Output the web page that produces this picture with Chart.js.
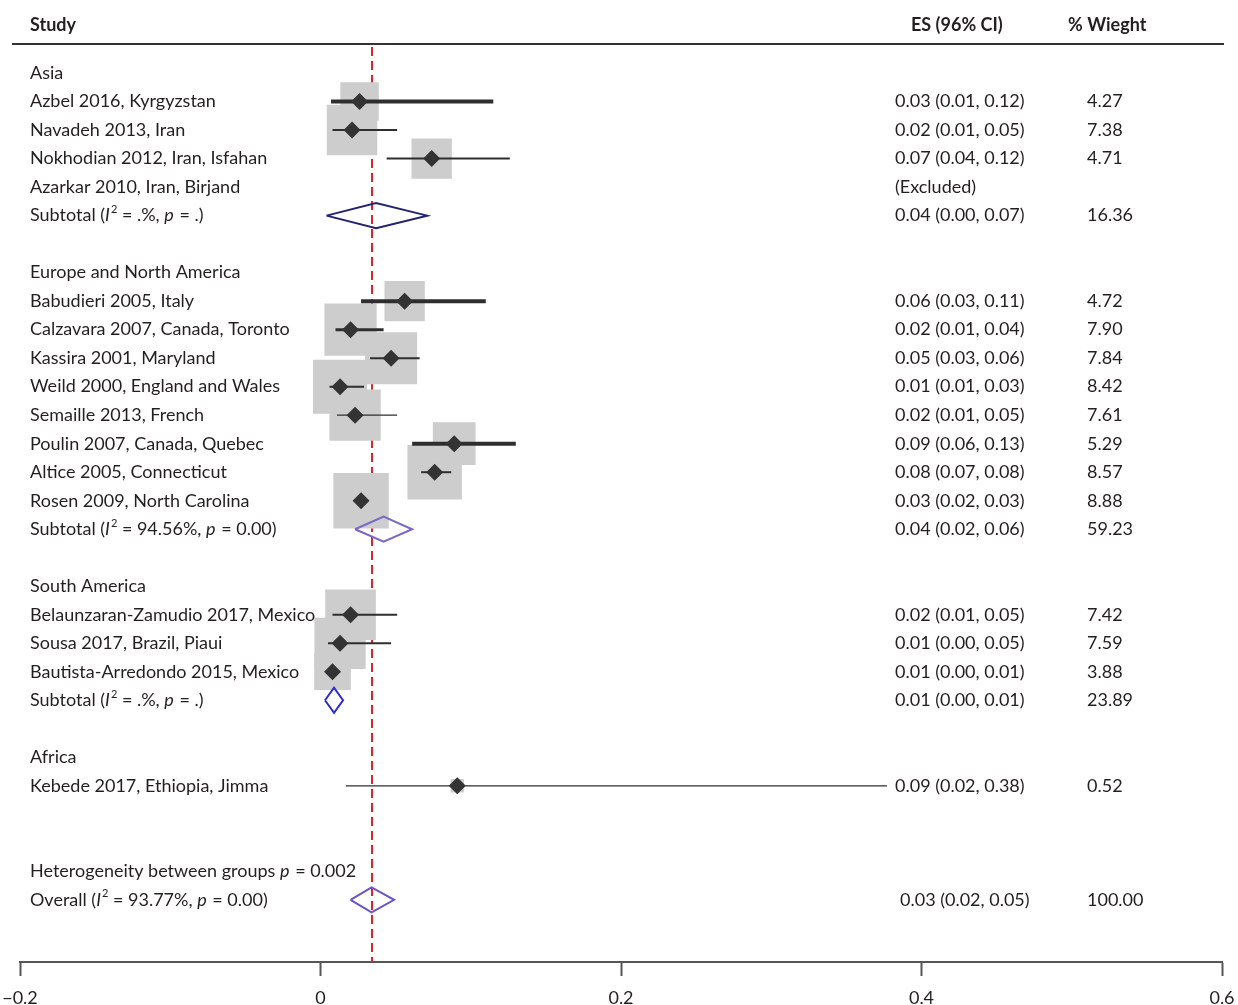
<!DOCTYPE html>
<html>
<head>
<meta charset="utf-8">
<script src="https://cdn.jsdelivr.net/npm/chart.js@4"></script>
<style>
html, body { margin: 0; padding: 0; background: #fff; }
#wrap { width: 1238px; height: 1005px; }
</style>
</head>
<body>
<div id="wrap"><canvas id="forest_chart"></canvas></div>
<script>
const groupNames = ['Asia', 'Europe and North America', 'South America', 'Africa'];

const studyNames = [
    'Azbel 2016, Kyrgyzstan',
    'Navadeh 2013, Iran',
    'Nokhodian 2012, Iran, Isfahan',
    'Azarkar 2010, Iran, Birjand',
    'Babudieri 2005, Italy',
    'Calzavara 2007, Canada, Toronto',
    'Kassira 2001, Maryland',
    'Weild 2000, England and Wales',
    'Semaille 2013, French',
    'Poulin 2007, Canada, Quebec',
    'Altice 2005, Connecticut',
    'Rosen 2009, North Carolina',
    'Belaunzaran-Zamudio 2017, Mexico',
    'Sousa 2017, Brazil, Piaui',
    'Bautista-Arredondo 2015, Mexico',
    'Kebede 2017, Ethiopia, Jimma',
];
const studyGroup = [0, 0, 0, 0, 1, 1, 1, 1, 1, 1, 1, 1, 2, 2, 2, 3];
const studyEs = [0.026, 0.021, 0.074, null, 0.056, 0.020, 0.047, 0.013, 0.023, 0.089, 0.076, 0.027, 0.020, 0.013, 0.008, 0.091];
const studyLow = [0.007, 0.008, 0.044, null, 0.027, 0.010, 0.033, 0.006, 0.011, 0.061, 0.067, 0.024, 0.008, 0.005, 0.004, 0.017];
const studyHigh = [0.115, 0.051, 0.126, null, 0.110, 0.042, 0.066, 0.029, 0.051, 0.130, 0.087, 0.031, 0.051, 0.047, 0.011, 0.377];
const studyEsText = [
    '0.03 (0.01, 0.12)', '0.02 (0.01, 0.05)', '0.07 (0.04, 0.12)', '(Excluded)',
    '0.06 (0.03, 0.11)', '0.02 (0.01, 0.04)', '0.05 (0.03, 0.06)', '0.01 (0.01, 0.03)',
    '0.02 (0.01, 0.05)', '0.09 (0.06, 0.13)', '0.08 (0.07, 0.08)', '0.03 (0.02, 0.03)',
    '0.02 (0.01, 0.05)', '0.01 (0.00, 0.05)', '0.01 (0.00, 0.01)', '0.09 (0.02, 0.38)',
];
const studyWeight = [4.27, 7.38, 4.71, null, 4.72, 7.90, 7.84, 8.42, 7.61, 5.29, 8.57, 8.88, 7.42, 7.59, 3.88, 0.52];

const subEs = [0.037, 0.042, 0.009, null];
const subLow = [0.004, 0.023, 0.003, null];
const subHigh = [0.071, 0.061, 0.015, null];
const subEsText = ['0.04 (0.00, 0.07)', '0.04 (0.02, 0.06)', '0.01 (0.00, 0.01)', null];
const subWeight = [16.36, 59.23, 23.89, null];
const subI2 = ['.%', '94.56%', '.%', null];
const subP = ['.', '0.00', '.', null];

const overallEs = 0.034;
const overallLow = 0.020;
const overallHigh = 0.049;
const overallEsText = '0.03 (0.02, 0.05)';
const overallWeight = 100.00;
const overallI2 = '93.77%';
const overallP = '0.00';
const heterogeneityP = '0.002';

const xTicks = [-0.2, 0, 0.2, 0.4, 0.6];

// styles
const ciWidth = [4, 2, 2, 2, 4, 3, 2, 2, 1.2, 4, 2, 2, 2, 2, 2, 1.2];
const diamondColors = ['#23246e', '#7a68c4', '#2a2ccc', null];
const overallColor = '#6a55c2';
const textColor = '#231f20';
const fontName = 'Lato';
const fontSize = 18;

// row layout: header, studies, subtotal slot, blank
let rowOfStudy = [];
let rowOfHeader = [];
let rowOfSub = [];
let row = 0;
groupNames.forEach((g, gi) => {
    rowOfHeader.push(row);
    row++;
    studyNames.forEach((s, si) => {
        if (studyGroup[si] === gi) {
            rowOfStudy[si] = row;
            row++;
        }
    });
    rowOfSub.push(row);
    row += 2;
});
const rowHetero = row;
const rowOverall = row + 1;

const halfH = 0.44;
function diamond(es, lo, hi, r) {
    return [
        {x: lo, y: r}, {x: es, y: r - halfH}, {x: hi, y: r}, {x: es, y: r + halfH}, {x: lo, y: r},
    ];
}

let boxData = [];
let pointData = [];
let datasets = [];
studyNames.forEach((s, i) => {
    if (studyEs[i] === null) return;
    boxData.push({x: studyEs[i], y: rowOfStudy[i], w: studyWeight[i]});
    pointData.push({x: studyEs[i], y: rowOfStudy[i]});
    datasets.push({
        data: [{x: studyLow[i], y: rowOfStudy[i]}, {x: studyHigh[i], y: rowOfStudy[i]}],
        showLine: true,
        borderColor: '#2e2e2e',
        borderWidth: ciWidth[i],
        pointRadius: 0,
        order: 3,
    });
});
datasets.push({
    data: boxData,
    pointStyle: 'rect',
    pointRadius: (c) => 13.15 * Math.sqrt(c.raw.w),
    backgroundColor: '#cdcdcd',
    borderWidth: 0,
    order: 4,
});
datasets.push({
    data: pointData,
    pointStyle: 'rectRot',
    pointRadius: 8.5,
    backgroundColor: '#333333',
    borderWidth: 0,
    order: 2,
});
groupNames.forEach((g, gi) => {
    if (subEs[gi] === null) return;
    datasets.push({
        data: diamond(subEs[gi], subLow[gi], subHigh[gi], rowOfSub[gi]),
        showLine: true,
        borderColor: diamondColors[gi],
        borderWidth: 2,
        pointRadius: 0,
        order: 1,
    });
});
datasets.push({
    data: diamond(overallEs, overallLow, overallHigh, rowOverall),
    showLine: true,
    borderColor: overallColor,
    borderWidth: 2,
    pointRadius: 0,
    order: 1,
});

function drawRich(ctx, x, y, parts) {
    parts.forEach((p) => {
        ctx.font = (p.i ? 'italic ' : '') + (p.sup ? '11px ' : fontSize + 'px ') + fontName;
        ctx.fillText(p.t, x, y + (p.sup ? -6 : 0));
        x += ctx.measureText(p.t).width + (p.i ? 1 : 0);
    });
}

const backgroundLines = {
    id: 'backgroundLines',
    beforeDatasetsDraw(chart) {
        const {ctx, chartArea, scales} = chart;
        ctx.save();
        ctx.strokeStyle = '#333';
        ctx.lineWidth = 2;
        ctx.beginPath();
        ctx.moveTo(12, chartArea.top);
        ctx.lineTo(1224, chartArea.top);
        ctx.stroke();
        const xr = Math.round(scales.x.getPixelForValue(overallEs));
        ctx.strokeStyle = '#d7262e';
        ctx.setLineDash([9, 5]);
        ctx.beginPath();
        ctx.moveTo(xr, chartArea.top + 3);
        ctx.lineTo(xr, chartArea.bottom);
        ctx.stroke();
        ctx.restore();
    },
};

const tableText = {
    id: 'tableText',
    afterDraw(chart) {
        const {ctx, chartArea, scales} = chart;
        const yOf = (r) => scales.y.getPixelForValue(r);
        const labelX = 30;
        const esX = 895;
        const wX = 1087;
        const base = fontSize + 'px ' + fontName;
        ctx.save();
        ctx.fillStyle = textColor;
        ctx.textBaseline = 'middle';
        ctx.textAlign = 'left';
        ctx.font = 'bold ' + base;
        ctx.fillText('Study', labelX, chartArea.top - 19);
        ctx.fillText('ES (96% CI)', 911, chartArea.top - 19);
        ctx.fillText('% Wieght', 1068, chartArea.top - 19);

        groupNames.forEach((g, gi) => {
            ctx.font = base;
            ctx.fillText(g, labelX, yOf(rowOfHeader[gi]));
            if (subEs[gi] !== null) {
                const y = yOf(rowOfSub[gi]);
                drawRich(ctx, labelX, y, [
                    {t: 'Subtotal ('}, {t: 'I', i: true}, {t: '2', sup: true},
                    {t: ' = ' + subI2[gi] + ', '}, {t: 'p', i: true}, {t: ' = ' + subP[gi] + ')'},
                ]);
                ctx.font = base;
                ctx.fillText(subEsText[gi], esX, y);
                ctx.fillText(subWeight[gi].toFixed(2), wX, y);
            }
        });
        ctx.font = base;
        studyNames.forEach((s, i) => {
            const y = yOf(rowOfStudy[i]);
            ctx.fillText(s, labelX, y);
            ctx.fillText(studyEsText[i], esX, y);
            if (studyWeight[i] !== null) ctx.fillText(studyWeight[i].toFixed(2), wX, y);
        });
        drawRich(ctx, labelX, yOf(rowHetero), [
            {t: 'Heterogeneity between groups '}, {t: 'p', i: true}, {t: ' = ' + heterogeneityP},
        ]);
        const yo = yOf(rowOverall);
        drawRich(ctx, labelX, yo, [
            {t: 'Overall ('}, {t: 'I', i: true}, {t: '2', sup: true},
            {t: ' = ' + overallI2 + ', '}, {t: 'p', i: true}, {t: ' = ' + overallP + ')'},
        ]);
        ctx.font = base;
        ctx.fillText(overallEsText, esX + 5, yo);
        ctx.fillText(overallWeight.toFixed(2), wX, yo);
        ctx.restore();
    },
};

const forestChartCanvas = document.getElementById('forest_chart');
const forestChartConfig = {
    type: 'scatter',
    data: {
        datasets: datasets,
    },
    options: {
        responsive: true,
        maintainAspectRatio: false,
        animation: false,
        events: [],
        layout: {
            autoPadding: false,
            padding: {top: 44, left: 20, right: 16, bottom: 0},
        },
        plugins: {
            legend: {display: false},
            tooltip: {enabled: false},
        },
        scales: {
            x: {
                type: 'linear',
                position: 'bottom',
                min: xTicks[0],
                max: xTicks[xTicks.length - 1],
                afterBuildTicks: (axis) => {
                    axis.ticks = xTicks.map((v) => ({value: v}));
                },
                afterFit: (axis) => {
                    axis.paddingLeft = 0;
                    axis.paddingRight = 0;
                    axis.height = 43;
                },
                ticks: {
                    color: textColor,
                    padding: 11,
                    maxRotation: 0,
                    font: {family: fontName, size: fontSize},
                    callback: (v) => {
                        const r = Math.round(v * 10) / 10;
                        return r < 0 ? '\u2212' + Math.abs(r) : String(r);
                    },
                },
                grid: {
                    drawOnChartArea: false,
                    drawTicks: true,
                    tickLength: 14,
                    tickWidth: 2,
                    tickColor: '#555',
                },
                border: {display: true, color: '#555', width: 2},
            },
            y: {
                type: 'linear',
                display: false,
                reverse: true,
                min: -1.02,
                max: 31.18,
            },
        },
    },
    plugins: [backgroundLines, tableText],
};
const forestChart = new Chart(forestChartCanvas, forestChartConfig);
</script>
</body>
</html>
